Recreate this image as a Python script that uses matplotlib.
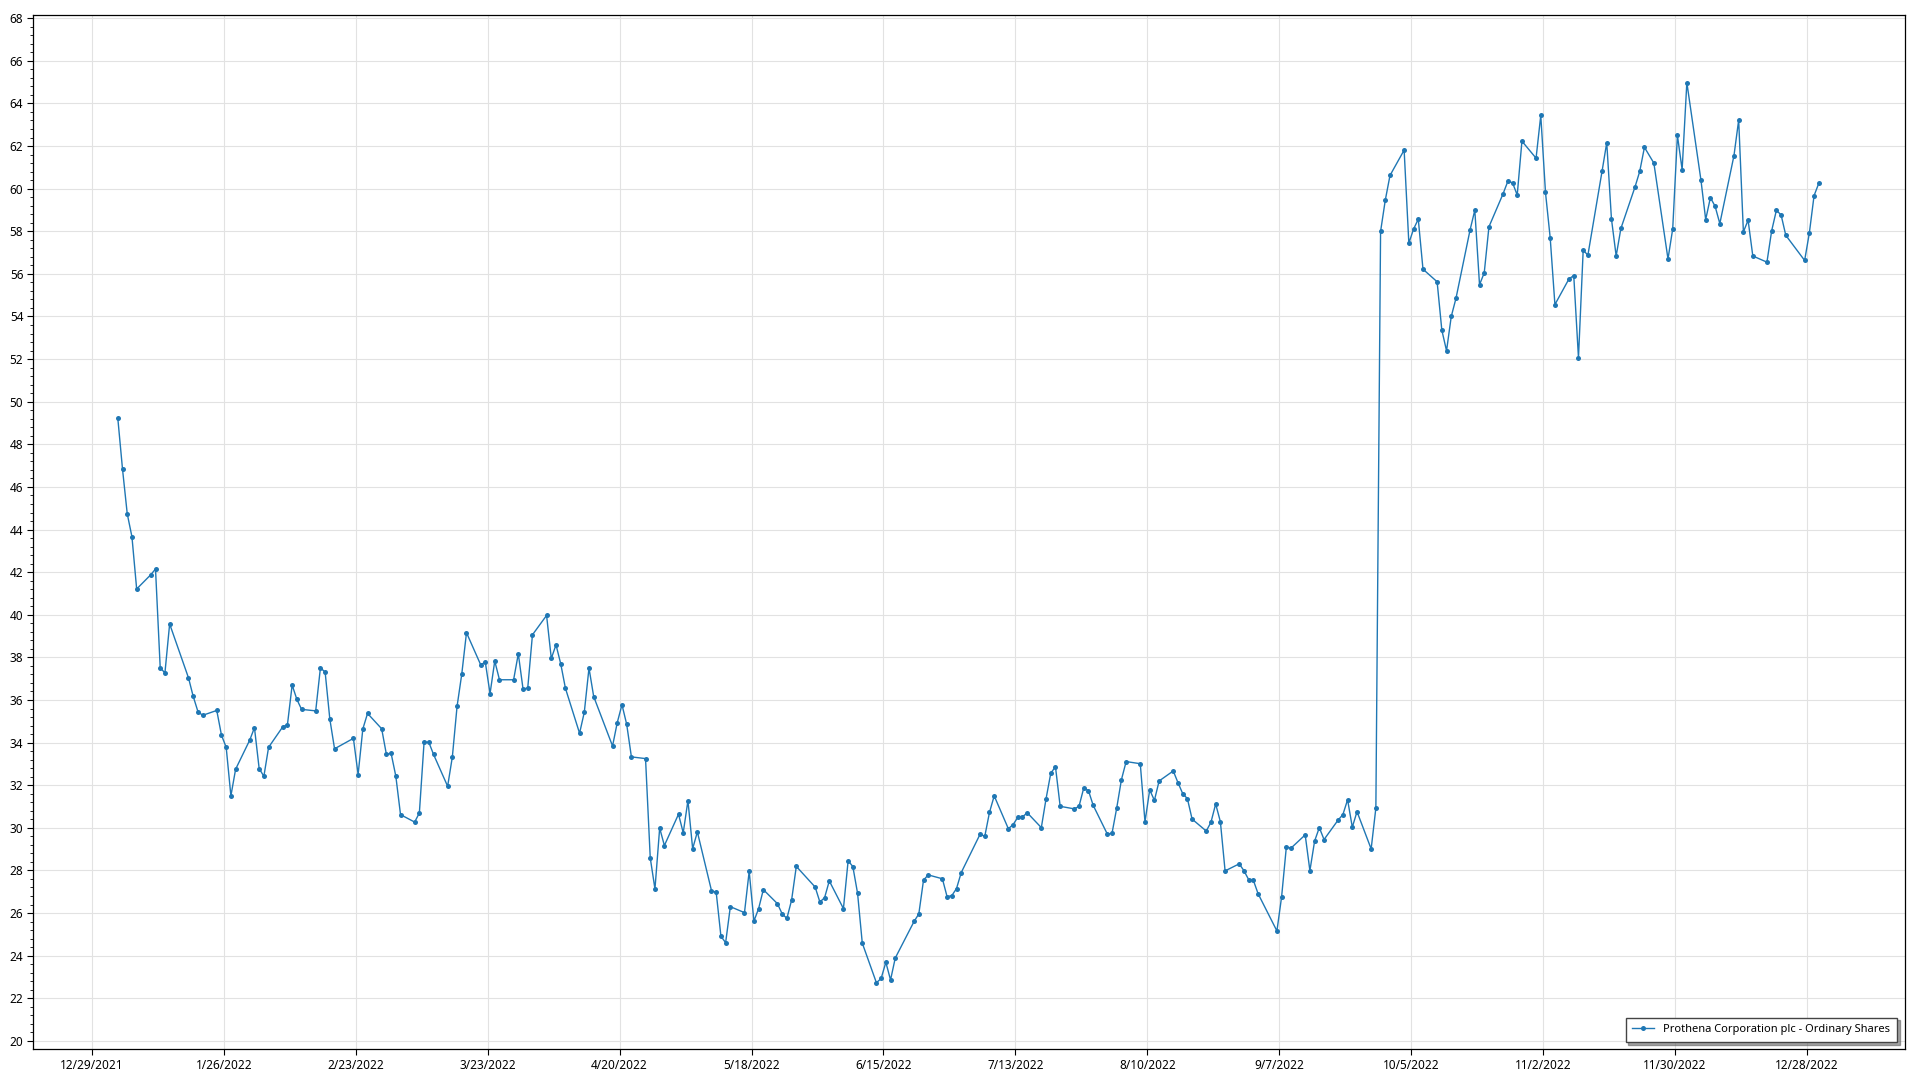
import numpy as np
import pandas as pd
import matplotlib
matplotlib.use("Agg")
import matplotlib.pyplot as plt
import matplotlib.dates as mdates
from matplotlib.ticker import MultipleLocator, FixedLocator

# ---- data (NYSE trading days of 2022) ----
holidays = ["2022-01-17", "2022-02-21", "2022-04-15", "2022-05-30", "2022-06-20",
            "2022-07-04", "2022-09-05", "2022-11-24", "2022-12-26"]

jan = [49.22, 46.83, 44.74, 43.66, 41.21, 41.88, 42.15, 37.51, 37.27, 39.57,
       37.04, 36.17, 35.46, 35.28, 35.51, 34.35, 33.78, 31.50, 32.75, 34.12]
feb = [34.70, 32.78, 32.42, 33.78, 34.74, 34.84, 36.70, 36.03, 35.56, 35.49,
       37.51, 37.31, 35.10, 33.71, 34.20, 32.50, 34.64, 35.37, 34.65]
mar = [33.45, 33.50, 32.43, 30.62, 30.27, 30.70, 34.02, 34.02, 33.45, 31.95,
       33.33, 35.70, 37.22, 39.16, 37.66, 37.77, 36.30, 37.83, 36.95, 36.95,
       38.17, 36.52, 36.56]
apr = [39.06, 39.97, 37.95, 38.59, 37.70, 36.55, 34.44, 35.42, 37.50, 36.16,
       33.84, 34.94, 35.78, 34.86, 33.33, 33.25, 28.59, 27.13, 29.99, 29.17]
may = [30.64, 29.77, 31.28, 29.02, 29.81, 27.05, 26.97, 24.91, 24.61, 26.30,
       26.02, 27.96, 25.62, 26.21, 27.10, 26.44, 25.96, 25.75, 26.61, 28.19, 27.22]
jun = [26.52, 26.72, 27.51, 26.21, 28.46, 28.18, 26.93, 24.59, 22.73, 22.93,
       23.69, 22.86, 23.89, 25.61, 25.96, 27.55, 27.79, 27.61, 26.77, 26.82, 27.15]
jul = [27.90, 29.70, 29.60, 30.73, 31.50, 29.96, 30.15, 30.49, 30.51, 30.71,
       30.01, 31.36, 32.56, 32.87, 31.01, 30.89, 31.01, 31.87, 31.75, 31.06]
aug = [29.71, 29.74, 30.93, 32.26, 33.11, 33.01, 30.28, 31.78, 31.29, 32.20,
       32.67, 32.12, 31.61, 31.37, 30.41, 29.85, 30.26, 31.12, 30.29, 27.98,
       28.31, 27.99, 27.57]
sep = [27.54, 26.91, 25.16, 26.77, 29.10, 29.05, 29.67, 27.99, 29.38, 30.01,
       29.45, 30.37, 30.62, 31.32, 30.03, 30.76, 29.01, 30.93, 57.99, 59.46, 60.62]
oct_ = [61.81, 57.44, 58.10, 58.57, 56.22, 55.63, 53.36, 52.39, 54.00, 54.85,
        58.07, 58.99, 55.49, 56.05, 58.21, 59.76, 60.34, 60.28, 59.70, 62.23, 61.43]
nov = [63.44, 59.82, 57.69, 54.56, 55.77, 55.92, 52.06, 57.11, 56.88, 60.81,
       62.16, 58.58, 56.84, 58.13, 60.08, 60.81, 61.94, 61.20, 56.70, 58.11, 62.50]
dec = [60.89, 64.98, 60.39, 58.55, 59.58, 59.17, 58.36, 61.55, 63.22, 57.97,
       58.52, 56.84, 56.55, 58.02, 58.98, 58.77, 57.81, 56.63, 57.92, 59.67, 60.25]

prices = jan + feb + mar + apr + may + jun + jul + aug + sep + oct_ + nov + dec
# timestamps of the daily records (stored at midday)
dates = pd.bdate_range("2022-01-03", "2022-12-30", freq="C", holidays=holidays) + pd.Timedelta(hours=12)

series_label = "Prothena Corporation plc - Ordinary Shares"
tick_dates = pd.date_range("2021-12-29", periods=14, freq="28D")
x_min = pd.Timestamp("2021-12-29") - pd.Timedelta(days=12.5)
x_max = pd.Timestamp("2021-12-29") + pd.Timedelta(days=384.8)
y_min, y_max = 19.62, 68.15

# ---- figure ----
plt.rcParams['font.family'] = ['Noto Sans', 'DejaVu Sans']
fig = plt.figure(figsize=(19.2, 10.8), dpi=100)
ax = fig.add_axes([33/1920, 1 - 1049/1080, (1905-33)/1920, (1049-15)/1080])

ax.plot(dates, prices, color="#1f77b4", lw=1.0, marker="o", markersize=3.6,
        markeredgewidth=0, label=series_label, zorder=3)

ax.set_xlim(x_min, x_max)
ax.set_ylim(y_min, y_max)

ax.xaxis.set_major_locator(FixedLocator(mdates.date2num(tick_dates)))
ax.set_xticklabels([f"{d.month}/{d.day}/{d.year}" for d in tick_dates])
ax.yaxis.set_major_locator(MultipleLocator(2))
ax.yaxis.set_minor_locator(MultipleLocator(0.4))

ax.grid(True, which="major", color="#e2e2e2", lw=0.8, zorder=0)
ax.tick_params(axis="both", which="major", labelsize=8.5, length=4, width=0.8,
               color="black", pad=3)
ax.tick_params(axis="y", which="minor", length=2, width=0.6, color="black")
for s in ax.spines.values():
    s.set_color("black")
    s.set_linewidth(0.9)

leg = ax.legend(loc="lower right", fontsize=8.0, frameon=True, fancybox=False,
                shadow=True, borderpad=0.6, handlelength=2.0, borderaxespad=0,
                bbox_to_anchor=(0.9957, 0.0068))
leg.get_frame().set_edgecolor("#444444")
leg.get_frame().set_linewidth(1.0)

fig.savefig("out.png", dpi=100)
